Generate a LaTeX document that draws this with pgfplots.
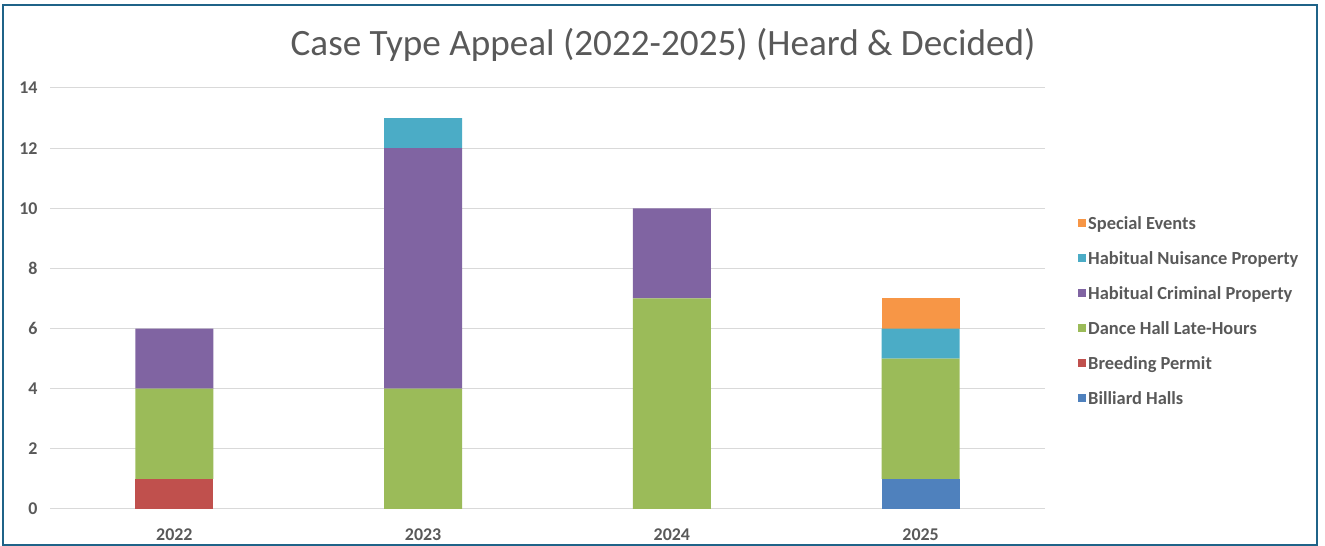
\documentclass[border=0pt]{standalone}
\usepackage{fontspec}
\setmainfont{Carlito}
\usepackage{pgfplots}
\pgfplotsset{compat=1.18}
\definecolor{cBil}{HTML}{4F81BD}
\definecolor{cBre}{HTML}{C0504D}
\definecolor{cDan}{HTML}{9BBB59}
\definecolor{cCri}{HTML}{8064A2}
\definecolor{cNui}{HTML}{4BACC6}
\definecolor{cSpe}{HTML}{F79646}
\definecolor{txt}{HTML}{595959}
\definecolor{gridc}{HTML}{D9D9D9}
\definecolor{framec}{HTML}{1F6388}
\begin{document}
\begin{tikzpicture}[x=1bp,y=1bp]
\useasboundingbox (0,0) rectangle (1325,546);
\draw[framec, line width=2bp] (3,1) rectangle (1317,541);
\node[txt, font=\fontsize{37.3}{42}\selectfont] at (663,501) {Case Type Appeal (2022-2025) (Heard \& Decided)};
\begin{axis}[
  at={(50bp,37bp)}, anchor=south west,
  scale only axis, width=995bp, height=421bp,
  ybar stacked, bar width=78bp,
  xmin=-0.5, xmax=3.5, ymin=0, ymax=14,
  xtick={0,1,2,3}, xticklabels={2022,2023,2024,2025},
  ytick={0,2,...,14},
  axis line style={draw=none},
  xtick style={draw=none}, ytick style={draw=none},
  major tick length=0pt,
  xmajorgrids=false, ymajorgrids=true, grid style={gridc, line width=1bp},
  tick label style={txt, font=\fontsize{18}{20}\selectfont\bfseries},
  yticklabel style={xshift=-9bp},
  xticklabel style={yshift=-16bp},
  /pgf/number format/assume math mode=true,
  legend style={at={(1028bp,295bp)}, anchor=north west, draw=none, fill=none,
    font=\fontsize{18.5}{21}\selectfont\bfseries, text=txt,
    row sep=16.6bp, legend cell align=left, inner sep=0pt,
    /tikz/every even column/.append style={column sep=11bp}},
  legend image code/.code={\fill[#1] (0bp,-4bp) rectangle (8bp,4bp);},
  reverse legend,
  every axis plot/.append style={draw=none},
]
\addplot[fill=cBil] coordinates {(0,0) (1,0) (2,0) (3,1)};
\addplot[fill=cBre] coordinates {(0,1) (1,0) (2,0) (3,0)};
\addplot[fill=cDan] coordinates {(0,3) (1,4) (2,7) (3,4)};
\addplot[fill=cCri] coordinates {(0,2) (1,8) (2,3) (3,0)};
\addplot[fill=cNui] coordinates {(0,0) (1,1) (2,0) (3,1)};
\addplot[fill=cSpe] coordinates {(0,0) (1,0) (2,0) (3,1)};
\legend{Billiard Halls, Breeding Permit, Dance Hall Late-Hours, Habitual Criminal Property, Habitual Nuisance Property, Special Events}
\end{axis}
\end{tikzpicture}
\end{document}
